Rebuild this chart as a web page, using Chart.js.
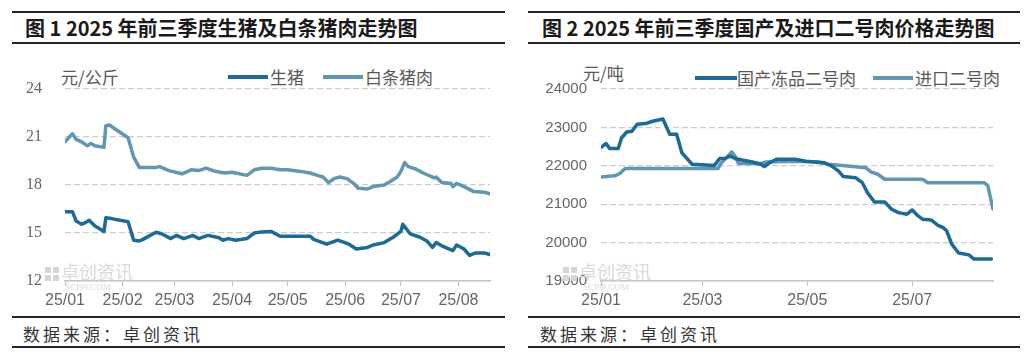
<!DOCTYPE html>
<html>
<head>
<meta charset="utf-8">
<script src="https://cdn.jsdelivr.net/npm/chart.js@4"></script>
<style>
  html, body { margin: 0; padding: 0; background: #fff; }
  body { width: 1027px; height: 356px; position: relative; overflow: hidden; font-family: "Noto Sans CJK SC", sans-serif; }
  .rule { position: absolute; height: 2px; background: #262626; }
  .title { position: absolute; top: 16px; font-size: 20px; font-weight: 700; color: #1a1a1a; white-space: nowrap; line-height: 24px; }
  .src { position: absolute; top: 323px; font-size: 17px; color: #333; letter-spacing: 3px; white-space: nowrap; line-height: 22px; }
  .lbl { position: absolute; font-size: 17px; color: #595959; white-space: nowrap; line-height: 20px; }
  .sw { position: absolute; height: 4px; }
  canvas { position: absolute; }
</style>
</head>
<body>
<!-- left panel -->
<div class="rule" style="left:12px;top:11px;width:493px"></div>
<div class="title" style="left:25px">图 1 2025 年前三季度生猪及白条猪肉走势图</div>
<div class="rule" style="left:12px;top:42px;width:493px"></div>
<div class="lbl" style="left:61px;top:67px">元/公斤</div>
<div class="sw" style="left:228px;top:75px;width:40px;background:#1d6b94"></div>
<div class="lbl" style="left:270px;top:67px">生猪</div>
<div class="sw" style="left:323px;top:75px;width:40px;background:#6297b2"></div>
<div class="lbl" style="left:365px;top:67px">白条猪肉</div>
<canvas id="c1" width="490" height="234" style="left:12px;top:80px"></canvas>
<div class="rule" style="left:12px;top:316px;width:493px"></div>
<div class="src" style="left:23px">数据来源：卓创资讯</div>
<div class="rule" style="left:12px;top:346px;width:493px"></div>

<!-- right panel -->
<div class="rule" style="left:528px;top:11px;width:492px"></div>
<div class="title" style="left:542px">图 2 2025 年前三季度国产及进口二号肉价格走势图</div>
<div class="rule" style="left:528px;top:42px;width:492px"></div>
<div class="lbl" style="left:583px;top:63px">元/吨</div>
<div class="sw" style="left:695px;top:76px;width:42px;background:#1d6b94"></div>
<div class="lbl" style="left:737px;top:68px">国产冻品二号肉</div>
<div class="sw" style="left:873px;top:76px;width:40px;background:#6297b2"></div>
<div class="lbl" style="left:915px;top:68px">进口二号肉</div>
<canvas id="c2" width="492" height="234" style="left:528px;top:80px"></canvas>
<div class="rule" style="left:528px;top:316px;width:492px"></div>
<div class="src" style="left:540px">数据来源：卓创资讯</div>
<div class="rule" style="left:528px;top:346px;width:492px"></div>

<script>
// ---- Figure 1 data (x = days since 2025-01-01) ----
const hogDays = [0,4,6,9,11,13,16,21,22,25,34,37,40,42,49,52,57,60,64,69,72,77,83,85,88,92,98,102,106,111,116,132,134,141,147,153,157,163,166,172,177,181,182,186,191,195,198,200,203,209,211,215,218,221,226,229];
const hogPrice = [16.33,16.33,15.75,15.55,15.65,15.8,15.45,15.1,15.95,15.9,15.7,14.55,14.5,14.6,15.05,14.95,14.65,14.85,14.65,14.85,14.65,14.85,14.7,14.55,14.65,14.55,14.65,15.0,15.07,15.1,14.8,14.8,14.6,14.3,14.55,14.3,14.0,14.1,14.25,14.4,14.75,15.1,15.55,14.95,14.75,14.5,14.1,14.4,14.2,13.9,14.25,14.0,13.6,13.75,13.75,13.65];
const porkDays = [0,4,6,9,12,14,16,21,22,24,27,34,37,40,49,51,56,63,68,72,76,81,86,90,98,102,106,111,116,120,127,132,136,139,142,145,148,152,156,158,163,166,172,175,179,181,183,185,189,193,199,200,203,208,209,211,215,220,226,229];
const porkPrice = [20.7,21.2,20.85,20.7,20.45,20.6,20.45,20.35,21.7,21.75,21.5,20.95,19.75,19.1,19.1,19.15,18.9,18.7,18.95,18.9,19.05,18.85,18.75,18.8,18.6,18.95,19.05,19.05,18.95,18.95,18.85,18.75,18.6,18.5,18.15,18.4,18.5,18.4,18.05,17.8,17.75,17.9,18.0,18.2,18.5,18.85,19.4,19.15,19.0,18.75,18.45,18.5,18.15,18.1,17.9,18.1,17.9,17.6,17.55,17.45];
const fig1TickDays = [0,31,59,90,120,151,181,212];
const fig1TickLabels = ['25/01','25/02','25/03','25/04','25/05','25/06','25/07','25/08'];

// ---- Figure 2 data ----
const domDays = [0,3,5,10,12,15,18,21,26,30,36,40,44,47,53,66,69,72,75,78,82,88,93,95,98,102,113,119,130,134,138,141,148,152,155,159,165,169,173,178,181,184,187,192,196,199,201,204,208,214,217,227];
const domPrice = [22480,22580,22450,22450,22730,22880,22900,23080,23100,23160,23220,22820,22820,22340,22040,22010,22190,22190,22250,22190,22150,22100,22040,21980,22080,22170,22170,22120,22080,22000,21870,21720,21690,21560,21300,21060,21060,20870,20780,20740,20850,20710,20610,20590,20450,20390,20310,19960,19730,19680,19570,19570];
const impDays = [0,8,11,14,68,70,73,76,78,80,93,96,113,126,132,142,154,157,161,165,187,190,223,225,228];
const impPrice = [21710,21740,21800,21930,21930,22080,22210,22360,22250,22060,22060,22100,22120,22100,22040,22000,21950,21840,21780,21650,21650,21560,21560,21480,20870];
const fig2TickDays = [0,59,120,181];
const fig2TickLabels = ['25/01','25/03','25/05','25/07'];

const DARK = '#1d6b94', LIGHT = '#6297b2';
const pts = (xs, ys) => xs.map((x, i) => ({x: x, y: ys[i]}));

function watermark(dx) {
  return {
    id: 'wm',
    beforeDatasetsDraw(chart) {
      const ctx = chart.ctx, b = chart.chartArea.bottom;
      ctx.save();
      ctx.fillStyle = '#d6d6d6';
      ctx.fillRect(dx, b - 14, 6, 6);
      ctx.fillRect(dx + 8, b - 14, 6, 6);
      ctx.fillRect(dx, b - 6, 6, 6);
      ctx.fillRect(dx + 8, b - 6, 6, 6);
      ctx.fillStyle = '#d9d9d9';
      ctx.font = '18px "Noto Sans CJK SC"';
      ctx.textBaseline = 'alphabetic';
      ctx.fillText('卓创资讯', dx + 16, b - 2);
      ctx.font = '9px "Liberation Serif"';
      ctx.fillText('SCI99.COM', dx + 20, b + 9);
      ctx.restore();
    }
  };
}

function makeChart(id, datasets, xMax, yMin, yMax, yStep, yWidth, yGap, padR, tickDays, tickLabels, yFont, wmX) {
  return new Chart(document.getElementById(id), {
    type: 'line',
    data: { datasets: datasets },
    plugins: [watermark(wmX)],
    options: {
      responsive: false,
      animation: false,
      devicePixelRatio: 1,
      layout: { padding: { top: 9, right: padR, left: 0, bottom: 0 } },
      plugins: { legend: { display: false }, tooltip: { enabled: false } },
      elements: { point: { radius: 0 }, line: { tension: 0, borderWidth: 3.5, borderJoinStyle: 'round', borderCapStyle: 'round' } },
      scales: {
        x: {
          type: 'linear', min: 0, max: xMax,
          afterBuildTicks: s => { s.ticks = tickDays.map(v => ({ value: v })); },
          afterFit: s => { s.height = 33; },
          ticks: {
            autoSkip: false, maxRotation: 0, padding: 7, color: '#666',
            font: { family: 'Liberation Sans', size: 16, lineHeight: 1 },
            callback: v => { const i = tickDays.indexOf(v); return i >= 0 ? tickLabels[i] : ''; }
          },
          grid: { drawOnChartArea: false, drawTicks: true, tickLength: 5, color: '#bdbdbd', tickColor: '#bdbdbd' },
          border: { display: true, color: '#c4c4c4', width: 1.5 }
        },
        y: {
          min: yMin, max: yMax,
          afterFit: s => { s.width = yWidth; },
          ticks: { stepSize: yStep, padding: 0, color: '#666', font: yFont, callback: v => String(v) },
          grid: { display: true, drawOnChartArea: true, drawTicks: true, tickLength: yGap, tickColor: 'rgba(255,255,255,0)', color: '#cdcdcd', lineWidth: 1.2 },
          border: { display: false, dash: [6, 3] }
        }
      }
    }
  });
}

makeChart('c1', [
  { label: '生猪', data: pts(hogDays, hogPrice), borderColor: DARK, backgroundColor: DARK },
  { label: '白条猪肉', data: pts(porkDays, porkPrice), borderColor: LIGHT, backgroundColor: LIGHT }
], 229, 12, 24, 3, 53, 23, 12, fig1TickDays, fig1TickLabels, { family: 'Liberation Serif', size: 16, lineHeight: 1 }, 33);

makeChart('c2', [
  { label: '国产冻品二号肉', data: pts(domDays, domPrice), borderColor: DARK, backgroundColor: DARK },
  { label: '进口二号肉', data: pts(impDays, impPrice), borderColor: LIGHT, backgroundColor: LIGHT }
], 228, 19000, 24000, 1000, 73, 14, 27, fig2TickDays, fig2TickLabels, { family: 'Liberation Sans', size: 15, lineHeight: 1 }, 35);
</script>
</body>
</html>
